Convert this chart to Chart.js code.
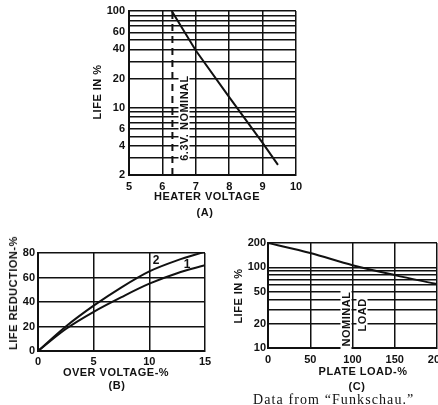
<!DOCTYPE html>
<html>
<head>
<meta charset="utf-8">
<script src="https://cdn.jsdelivr.net/npm/chart.js@4.4.0/dist/chart.umd.min.js"></script>
<style>
body { margin:0; background:#fff; width:438px; height:405px; overflow:hidden; position:relative; font-family:"Liberation Sans", Arial, sans-serif; }
canvas { position:absolute; }
.lbl { position:absolute; transform:translate(-50%,-50%); white-space:nowrap; font-weight:bold; font-size:11px; color:#111; letter-spacing:0.5px; }
.rot { transform:translate(-50%,-50%) rotate(-90deg); }
.gap { background:#fff; padding:0 4px; line-height:11px; }
.num { font-size:12px; letter-spacing:0; }
.src { position:absolute; left:253px; top:392px; white-space:nowrap; font-family:"Liberation Serif", serif; font-size:14px; color:#111; letter-spacing:1.1px; }
</style>
</head>
<body>
<canvas id="chartA" width="438" height="225" style="left:0;top:0"></canvas>
<canvas id="chartB" width="220" height="175" style="left:0;top:230px"></canvas>
<canvas id="chartC" width="218" height="175" style="left:220px;top:230px"></canvas>

<div class="lbl rot" style="left:97px;top:92px">LIFE IN %</div>
<div class="lbl rot gap" style="left:184px;top:118px">6.3V. NOMINAL</div>
<div class="lbl" style="left:207px;top:196px">HEATER VOLTAGE</div>
<div class="lbl" style="left:205px;top:212px">(A)</div>

<div class="lbl rot" style="left:13px;top:293px">LIFE REDUCTION-%</div>
<div class="lbl num" style="left:156px;top:260px">2</div>
<div class="lbl num" style="left:187px;top:264px">1</div>
<div class="lbl" style="left:116px;top:372px">OVER VOLTAGE-%</div>
<div class="lbl" style="left:117px;top:385px">(B)</div>

<div class="lbl rot" style="left:238px;top:296px">LIFE IN %</div>
<div class="lbl rot gap" style="left:346px;top:319px">NOMINAL</div>
<div class="lbl rot gap" style="left:362px;top:315px">LOAD</div>
<div class="lbl" style="left:363px;top:371px">PLATE LOAD-%</div>
<div class="lbl" style="left:357px;top:386px">(C)</div>
<div class="src">Data from “Funkschau.”</div>

<script>
// (A) life vs heater voltage
const heaterVolts = [6.28, 7, 8, 9, 9.46];
const heaterLife = [100, 39, 12.8, 4.3, 2.55];
const nominalVolts = [6.3, 6.3];
const nominalLife = [2, 100];
const heaterXTicks = [5, 6, 7, 8, 9, 10];
const heaterYTicks = [2, 3, 4, 5, 6, 7, 8, 9, 10, 20, 30, 40, 50, 60, 70, 80, 90, 100];
const heaterYLabels = [2, 4, 6, 10, 20, 40, 60, 100];

// (B) life reduction vs over voltage
const overVolts = [0, 2.5, 5, 7.5, 10, 12.5, 15];
const reduction1 = [0, 18, 32, 44, 55, 63.5, 70];
const reduction2 = [0, 20, 37, 52, 65, 74, 81];
const overXTicks = [0, 5, 10, 15];
const overYTicks = [0, 20, 40, 60, 80];

// (C) life vs plate load
const plateLoad = [0, 50, 100, 150, 200];
const plateLife = [200, 150, 106, 80, 62];
const plateXTicks = [0, 50, 100, 150, 200];
const plateYTicks = [10, 20, 30, 40, 50, 60, 70, 80, 90, 100, 200];
const plateYLabels = [10, 20, 50, 100, 200];

const INK = '#111';
const tickFont = { family: 'Liberation Sans', size: 11, weight: 'bold' };

function pts(xs, ys) {
    return xs.map((x, i) => ({ x: x, y: ys[i] }));
}

function fixedTicks(list) {
    return scale => { scale.ticks = list.map(v => ({ value: v })); };
}

function fitY(w) {
    return scale => { scale.width = w; scale.paddingTop = 0; scale.paddingBottom = 0; };
}

function fitX(h) {
    return scale => { scale.height = h; scale.paddingLeft = 0; scale.paddingRight = 0; };
}

function axis(type, min, max, list, labels, fit, pad) {
    return {
        type: type,
        min: min,
        max: max,
        afterBuildTicks: fixedTicks(list),
        afterFit: fit,
        grid: { color: INK, lineWidth: 1.5, drawTicks: false },
        border: { color: INK, width: 2 },
        ticks: {
            color: INK,
            font: tickFont,
            padding: pad,
            autoSkip: false,
            maxRotation: 0,
            callback: v => labels.includes(v) ? String(v) : ''
        }
    };
}

function lineSet(data, extra) {
    return Object.assign({
        data: data,
        borderColor: INK,
        borderWidth: 2,
        pointRadius: 0,
        fill: false,
        showLine: true,
        tension: 0
    }, extra || {});
}

function baseOptions(padding, xs, ys) {
    return {
        responsive: false,
        animation: false,
        layout: { padding: padding },
        plugins: { legend: { display: false }, tooltip: { enabled: false } },
        scales: { x: xs, y: ys }
    };
}

new Chart(document.getElementById('chartA'), {
    type: 'scatter',
    data: {
        datasets: [
            lineSet(pts(heaterVolts, heaterLife)),
            lineSet(pts(nominalVolts, nominalLife), { borderDash: [7, 5] })
        ]
    },
    options: baseOptions(
        { left: 0, top: 11, right: 142, bottom: 0 },
        axis('linear', 5, 10, heaterXTicks, heaterXTicks, fitX(50), 5),
        axis('logarithmic', 2, 100, heaterYTicks, heaterYLabels, fitY(129), 4)
    )
});

new Chart(document.getElementById('chartB'), {
    type: 'scatter',
    data: {
        datasets: [
            lineSet(pts(overVolts, reduction1), { cubicInterpolationMode: 'monotone' }),
            lineSet(pts(overVolts, reduction2), { cubicInterpolationMode: 'monotone' })
        ]
    },
    options: baseOptions(
        { left: 0, top: 23, right: 15, bottom: 0 },
        axis('linear', 0, 15, overXTicks, overXTicks, fitX(54), 4),
        axis('linear', 0, 80, overYTicks, overYTicks, fitY(38), 3)
    )
});

new Chart(document.getElementById('chartC'), {
    type: 'scatter',
    data: {
        datasets: [
            lineSet(pts(plateLoad, plateLife), { cubicInterpolationMode: 'monotone' })
        ]
    },
    options: baseOptions(
        { left: 0, top: 13, right: 1, bottom: 0 },
        axis('linear', 0, 200, plateXTicks, plateXTicks, fitX(57), 5),
        axis('logarithmic', 10, 200, plateYTicks, plateYLabels, fitY(48), 2)
    )
});
</script>
</body>
</html>
